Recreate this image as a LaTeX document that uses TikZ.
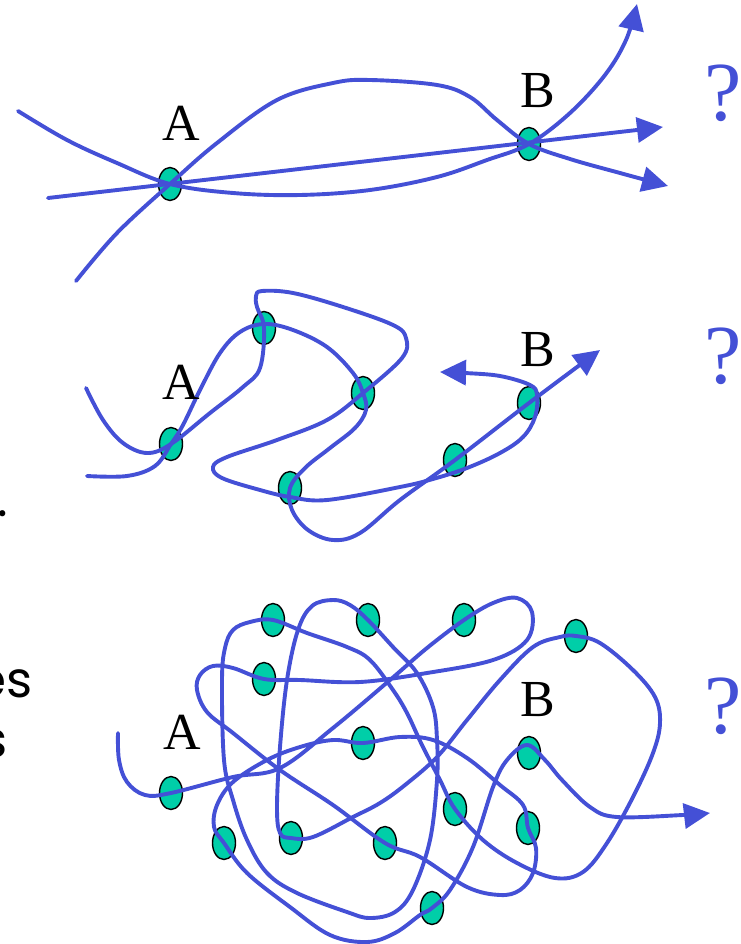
\documentclass[tikz,border=0pt]{standalone}
\usepackage{fontspec}
\setmainfont{Liberation Serif}
\newfontfamily\handfont{Poppins}
\usetikzlibrary{arrows.meta,shapes.geometric}
\definecolor{pathblue}{RGB}{68,80,214}
\definecolor{dotfill}{RGB}{0,206,168}
\begin{document}
\begin{tikzpicture}[x=1pt,y=-1pt,
  strand/.style={draw=pathblue,line width=3.9pt,line cap=round,line join=round},
  tip/.style={-{Triangle[length=26pt,width=25pt]}},
  dot/.style={ellipse,draw=black,line width=1.4pt,fill=dotfill,minimum width=23pt,minimum height=33pt,inner sep=0pt},
  lab/.style={font=\fontsize{52}{52}\selectfont,inner sep=0pt},
  qm/.style={text=pathblue,font=\fontsize{84}{84}\selectfont,inner sep=0pt},
  frag/.style={font=\handfont\fontsize{50}{50}\selectfont,inner sep=0pt},
]
\useasboundingbox (0,0) rectangle (740,944);

% left-edge text fragments (cut by the picture's edge, as in the reference)
\node[frag,anchor=center] (f1) at (3,514) {.};
\node[frag,anchor=base east] (f2) at (33,697) {es};
\node[frag,anchor=base east] (f3) at (8,757) {s};

% ---------------- top panel ----------------
\node[dot] (tA) at (170,184) {};
\node[dot] (tB) at (529,144) {};
\coordinate (t1s) at (18,111);
\coordinate (t1e) at (637,4);
\coordinate (t2s) at (76,281);
\coordinate (t2e) at (668,186);
\coordinate (t3s) at (48,198);
\coordinate (t3e) at (663,127);
\draw[strand,tip] plot[smooth,tension=0.6] coordinates {(t1s) (67,140) (117,163) (tA.center) (233,193) (300,195) (370,190) (437,177) (487,160) (tB.center) (570,113) (605,75) (626,40) (t1e)};
\draw[strand,tip] plot[smooth,tension=0.6] coordinates {(t2s) (117,233) (tA.center) (217,143) (277,100) (333,83) (370,80) (437,85) (470,97) (497,120) (tB.center) (570,159) (620,173) (t2e)};
\draw[strand,tip] (t3s) -- (t3e);
\node[lab] (tlA) at (181,123) {A};
\node[lab] (tlB) at (538,91) {B};
\node[qm] (tq) at (723,93) {?};

% ---------------- middle panel ----------------
\node[dot] (mA) at (171,444) {};
\node[dot] (m2) at (264,328) {};
\node[dot] (m3) at (363,393) {};
\node[dot] (m4) at (290,488) {};
\node[dot] (m5) at (455,460) {};
\node[dot] (m6) at (529,403) {};
\coordinate (m1s) at (87,476);
\coordinate (m1e) at (600,350);
\coordinate (m2s) at (86,388);
\coordinate (m2e) at (440,372);
\draw[strand,tip] plot[smooth,tension=0.6] coordinates {(m1s) (127,476) (155,466) (mA.center) (183,425) (200,390) (220,353) (240,332) (264,324) (293,330) (327,347) (353,373) (m3.center) (366,410) (355,428) (330,448) (305,468) (m4.center) (292,510) (308,530) (333,540) (360,533) (400,500) (m5.center) (m6.center) (m1e)};
\draw[strand,tip] plot[smooth,tension=0.6] coordinates {(m2s) (103,420) (123,443) (147,453) (mA.center) (210,413) (243,387) (260,368) (m2.center) (257,307) (256,296) (262,291) (293,293) (343,307) (393,325) (406,338) (402,358) (m3.center) (327,420) (277,440) (227,457) (213,467) (222,478) (260,490) (290,497) (327,500) (400,487) (433,479) (467,468) (500,453) (523,437) (535,417) (537,395) (530,385) (500,376) (465,373) (m2e)};
\node[lab] (mlA) at (181,382) {A};
\node[lab] (mlB) at (538,350) {B};
\node[qm] (mq) at (723,356) {?};

% ---------------- bottom panel ----------------
\node[dot] (bA) at (171,793) {};
\node[dot] (n2) at (273,620) {};
\node[dot] (n3) at (368,620) {};
\node[dot] (n4) at (464,620) {};
\node[dot] (n5) at (576,636) {};
\node[dot] (n6) at (264,679) {};
\node[dot] (n7) at (363,743) {};
\node[dot] (n8) at (529,753) {};
\node[dot] (n9) at (224,843) {};
\node[dot] (n10) at (291,838) {};
\node[dot] (n11) at (385,843) {};
\node[dot] (n12) at (455,809) {};
\node[dot] (n13) at (528,828) {};
\node[dot] (n14) at (432,908) {};
\coordinate (ps) at (118,733);
\coordinate (pe) at (710,813);
\draw[strand,tip] plot[smooth,tension=0.6] coordinates {(ps) (119,760) (127,782) (145,795) (bA.center) (233,777) (280,768) (333,728) (390,680) (427,648) (n4.center) (493,603) (517,598) (532,612) (527,640) (493,660) (427,673) (360,682) (300,680) (n6.center) (233,668) (213,666) (200,675) (197,690) (207,712) (233,733) (280,770) (333,805) (n11.center) (420,857) (467,887) (500,895) (520,890) (533,873) (536,848) (n13.center) (523,805) (500,785) (467,758) (433,740) (400,737) (n7.center) (333,740) (300,747) (267,760) (233,782) (217,805) (214,827) (n9.center) (247,873) (290,907) (330,935) (367,942) (395,933) (420,915) (n14.center) (450,890) (473,847) (493,787) (507,760) (527,745) (545,760) (562,780) (590,807) (617,817) (683,815) (pe)};
\draw[strand] plot[smooth cycle,tension=0.6] coordinates {(n2.center) (307,633) (347,647) (370,660) (393,690) (407,713) (422,745) (440,780) (n12.center) (483,840) (517,863) (555,878) (583,872) (607,843) (633,797) (653,753) (660,723) (655,697) (633,670) (600,643) (n5.center) (560,637) (533,647) (500,680) (467,720) (437,757) (405,785) (380,803) (353,817) (313,837) (n10.center) (280,833) (277,807) (280,747) (287,680) (298,630) (312,606) (333,600) (350,605) (n3.center) (393,647) (417,673) (433,707) (437,740) (437,780) (430,840) (413,890) (395,912) (370,918) (347,912) (297,893) (267,873) (247,840) (233,800) (224,760) (222,680) (225,648) (233,630) (250,622)};
\node[lab] (blA) at (182,732) {A};
\node[lab] (blB) at (538,700) {B};
\node[qm] (bq) at (723,706) {?};
\end{tikzpicture}
\end{document}
